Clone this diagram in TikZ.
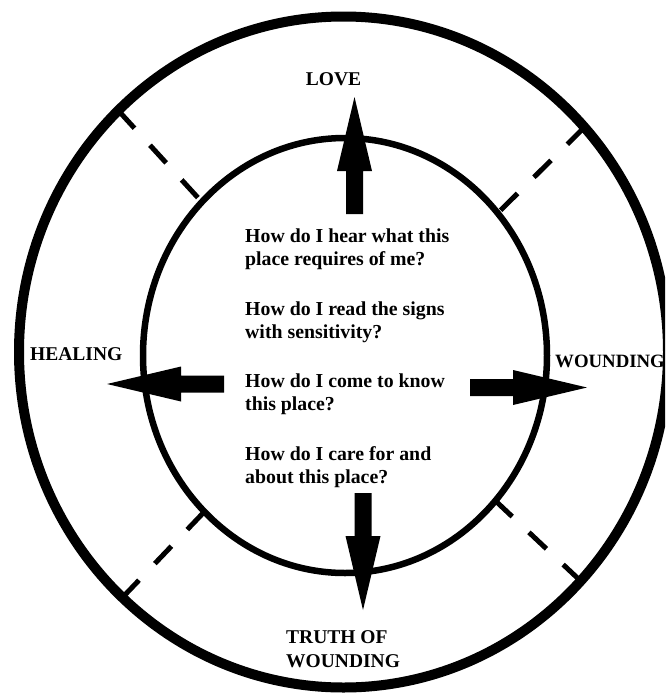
\documentclass[tikz,border=0pt]{standalone}
\usepackage{fontspec}
\setmainfont{Liberation Serif}
\usetikzlibrary{positioning,shapes.geometric}

\begin{document}
\begin{tikzpicture}[
  x=1pt, y=-1pt,
  node distance=31pt,
  ring/.style={draw, ellipse, outer sep=0pt, inner sep=0pt},
  question/.style={align=left, inner sep=0pt, font=\bfseries\fontsize{19.8}{23}\selectfont},
  dirlabel/.style={align=left, inner sep=0pt, font=\bfseries\fontsize{19.5}{24}\selectfont},
  spoke/.style={line width=5pt, dash pattern=on 24pt off 23pt},
  blockarrow/.pic={\fill (0,-8.5) -- (43,-8.5) -- (43,-17.5) -- (117,0) -- (43,17.5) -- (43,8.5) -- (0,8.5) -- cycle;}
]
\useasboundingbox (0,0) rectangle (665,694);
\clip (0,0) rectangle (665,694);

% rings
\node[ring, line width=10pt, minimum width=649pt, minimum height=671pt] (outer) at (343.5,352) {};
\node[ring, line width=6.5pt, minimum width=404pt, minimum height=435pt] (inner) at (345,355.5) {};

\foreach \ang in {133,43,228,316}
  \draw[spoke] (outer.\ang) -- (inner.\ang);

% questions
\node[question, anchor=north west] (hear) at (245,229) {How do I hear what this\\place requires of me?};
\node[question, below=of hear.south west, anchor=north west] (read) {How do I read the signs\\with sensitivity?};
\node[question, below=of read.south west, anchor=north west] (know) {How do I come to know\\this place?};
\node[question, below=of know.south west, anchor=north west] (care) {How do I care for and\\about this place?};

% directions
\node[dirlabel, anchor=base] (love) at (333.5,85) {LOVE};
\node[dirlabel, anchor=base west] (healing) at (30,360) {HEALING};
\node[dirlabel, anchor=base west, font=\bfseries\fontsize{18.8}{24}\selectfont] (wounding) at (555,367) {WOUNDING};
\node[dirlabel, anchor=north west] (truth) at (286,630.5) {TRUTH OF\\WOUNDING};

% arrows
\foreach \x/\y/\ang in {354.5/214/90, 363/493/-90, 224/384/180, 470/387.5/0}
  \pic[rotate=\ang] at (\x,\y) {blockarrow};
\end{tikzpicture}
\end{document}
